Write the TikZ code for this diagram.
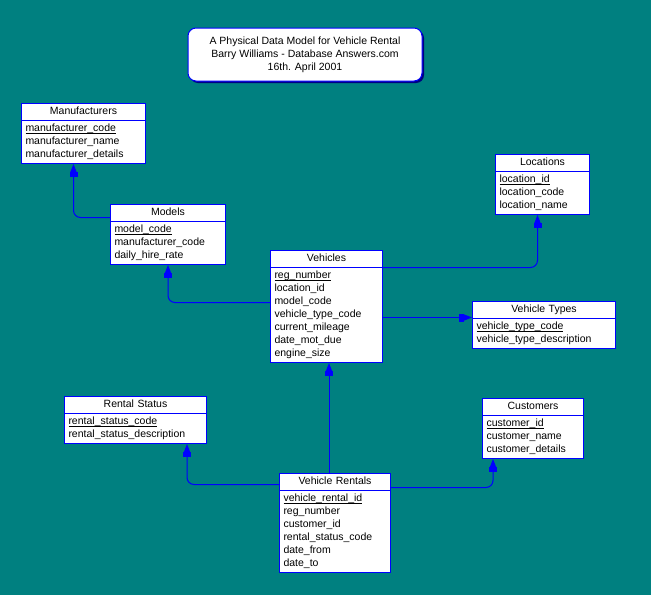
\documentclass[tikz,border=0pt]{standalone}
\usepackage{fontspec}
\setmainfont{Liberation Sans}
\usetikzlibrary{shapes.multipart,arrows.meta,shadows}
\definecolor{bgteal}{HTML}{008080}
\definecolor{erblue}{HTML}{0000FF}
\definecolor{shadownavy}{HTML}{000080}
\newcommand\hd[1]{\hbox to\hsize{\hfil\strut#1\hfil}}
\newcommand\pk[1]{\setbox0\hbox{#1}\rlap{\rule[-2.1pt]{\wd0}{0.7pt}}\box0\strut}
\begin{document}
\begin{tikzpicture}[x=1pt, y=-1pt,
	entity/.style = {draw=erblue, line width=1pt, fill=white, rectangle split, rectangle split parts=2,
		anchor=north west, align=left, inner xsep=4pt, inner ysep=1.5pt, font=\fontsize{10.5}{13}\selectfont},
	titlebox/.style = {draw=erblue, line width=1pt, fill=white, rounded corners=8pt, minimum width=234pt,
		minimum height=53pt, align=center, font=\fontsize{10.5}{13}\selectfont,
		general shadow={fill=shadownavy, shadow xshift=2pt, shadow yshift=-2pt}},
	rel/.style = {draw=erblue, line width=1pt, rounded corners=7pt,
		-{Rectangle[length=5pt,width=8pt]Triangle[length=8pt,width=6pt]}}]

	\fill[bgteal] (0,0) rectangle (651,595);

	\node[titlebox] (title) at (305,54.5) {A Physical Data Model for Vehicle Rental\\ Barry Williams - Database Answers.com\\ 16th. April 2001};

	% tables
	\node[entity, text width=116pt] (manuf) at (21,103) {\hd{Manufacturers}\nodepart{two}\pk{manufacturer\_code}\\ manufacturer\_name\\ manufacturer\_details\strut};
	\node[entity, text width=107pt] (models) at (110,204) {\hd{Models}\nodepart{two}\pk{model\_code}\\ manufacturer\_code\\ daily\_hire\_rate\strut};
	\node[entity, text width=86pt] (loc) at (495,154) {\hd{Locations}\nodepart{two}\pk{location\_id}\\ location\_code\\ location\_name\strut};
	\node[entity, text width=104pt] (vehicles) at (270,250) {\hd{Vehicles}\nodepart{two}\pk{reg\_number}\\ location\_id\\ model\_code\\ vehicle\_type\_code\\ current\_mileage\\ date\_mot\_due\\ engine\_size\strut};
	\node[entity, text width=135pt] (vtypes) at (472,301) {\hd{Vehicle Types}\nodepart{two}\pk{vehicle\_type\_code}\\ vehicle\_type\_description\strut};
	\node[entity, text width=134pt] (status) at (64,396) {\hd{Rental Status}\nodepart{two}\pk{rental\_status\_code}\\ rental\_status\_description\strut};
	\node[entity, text width=93pt] (cust) at (482,398) {\hd{Customers}\nodepart{two}\pk{customer\_id}\\ customer\_name\\ customer\_details\strut};
	\node[entity, text width=103pt] (rentals) at (279,473) {\hd{Vehicle Rentals}\nodepart{two}\pk{vehicle\_rental\_id}\\ reg\_number\\ customer\_id\\ rental\_status\_code\\ date\_from\\ date\_to\strut};

	% relationships
	\draw[rel] ([yshift=4pt]models.text split west) -| ([xshift=-10pt]manuf.south);
	\draw[rel] ([yshift=4pt]vehicles.west) -| (models.south);
	\draw[rel] (vehicles.text split east) -| ([xshift=-5pt]loc.south);
	\draw[rel] ([yshift=-11pt]vehicles.east) coordinate (vt) -- (vt -| vtypes.west);
	\draw[rel] ([xshift=-6pt]rentals.north) coordinate (vr) -- (vr |- vehicles.south);
	\draw[rel] ([yshift=6pt]rentals.text split west) -| ([xshift=-20pt]status.south east);
	\draw[rel] ([yshift=3pt]rentals.text split east) -| ([xshift=11pt]cust.south west);
\end{tikzpicture}
\end{document}
